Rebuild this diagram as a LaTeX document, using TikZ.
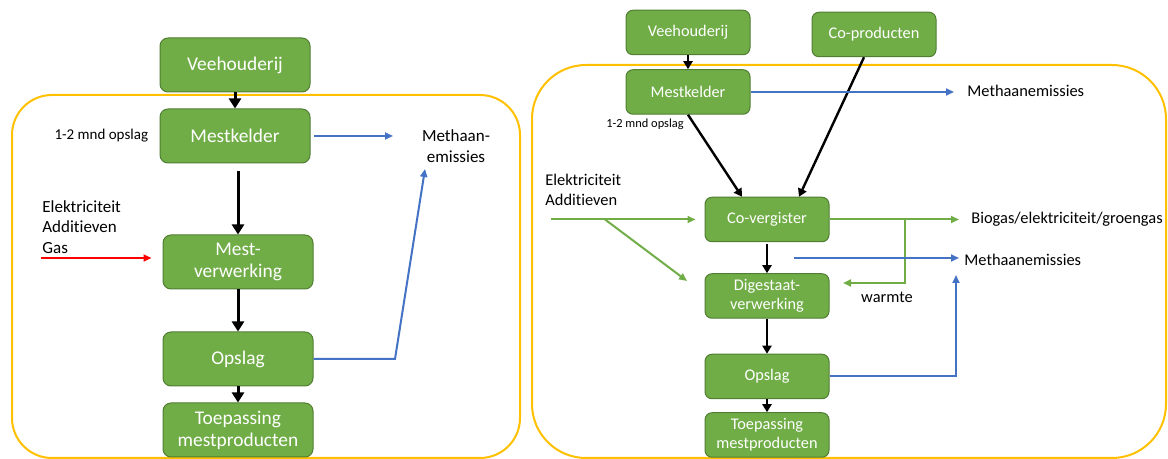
\documentclass[tikz,border=0pt]{standalone}
\usepackage{fontspec}
\setmainfont{Carlito}[Ligatures=NoCommon]
\usetikzlibrary{positioning,arrows.meta}

\definecolor{boxgreen}{HTML}{70AD47}
\definecolor{boxline}{HTML}{507E32}
\definecolor{flowblue}{HTML}{4472C4}
\definecolor{frameyellow}{HTML}{FFC000}

\begin{document}
\begin{tikzpicture}[
    x=0.5pt, y=-0.5pt,
    box/.style={draw=boxline, line width=0.5pt, fill=boxgreen, text=white, align=center, inner sep=0pt},
    bigbox/.style={box, rounded corners=4pt, minimum width=75pt, minimum height=27pt, font=\fontsize{9.7}{11}\selectfont},
    smallbox/.style={box, rounded corners=3.5pt, minimum width=62pt, minimum height=22.25pt, font=\fontsize{8.15}{9.3}\selectfont},
    lbl/.style={inner sep=0pt, font=\fontsize{8.5}{10.2}\selectfont},
    lbltwo/.style={inner sep=0pt, font=\fontsize{8.2}{10}\selectfont},
    frame/.style={draw=frameyellow, line width=1pt},
    blackarr/.style={-{Triangle[length=5pt,width=6pt]}, line width=1.5pt},
    blackarrtwo/.style={-{Triangle[length=4pt,width=4.5pt]}, line width=1.2pt},
    bluearr/.style={-{Triangle[length=4pt,width=3.5pt]}, draw=flowblue, line width=1pt},
    greenarr/.style={-{Triangle[length=4pt,width=3.5pt]}, draw=boxgreen, line width=1pt},
    redarr/.style={-{Triangle[length=4pt,width=3.5pt]}, draw=red, line width=1pt}
]
\useasboundingbox (0,0) rectangle (1168,459);

% Frames
\draw[frame, rounded corners=20pt] (12,95) rectangle (520,458);
\draw[frame, rounded corners=27pt] (532,65) rectangle (1166,458);

% Left chain
\node[bigbox] (veeh1) at (235,65) {Veehouderij};
\node[bigbox, below=8pt of veeh1] (mk1) {Mestkelder};
\node[bigbox, below=35.5pt of mk1, xshift=1.5pt] (mv1) {Mest-\\verwerking};
\node[bigbox, below=21pt of mv1] (op1) {Opslag};
\node[bigbox, below=8pt of op1] (tp1) {Toepassing\\mestproducten};

% Left labels
\node[inner sep=0pt, font=\fontsize{7.5}{9}\selectfont, left=5.5pt of mk1] (opsl1) {1-2 mnd opslag};
\node[lbl, align=center] (meth1) at (456,146) {Methaan-\\emissies};
\node[lbl, align=left, anchor=west] (inp1) at (42,227) {Elektriciteit\\Additieven\\Gas};

\coordinate (m1end) at (393,134);
\coordinate (bend1) at (395,355);
\coordinate (up1) at (425,169);
\coordinate (red1) at (41,258);

% Left arrows
\draw[blackarr] (veeh1) -- (mk1);
\draw[blackarr, shorten <=4pt] (mv1.north |- mk1.south) -- (mv1);
\draw[blackarr] (mv1) -- (op1);
\draw[blackarr] (op1) -- (tp1);
\draw[bluearr, shorten <=1.5pt] (mk1) -- (mk1 -| m1end);
\draw[bluearr] (op1) -- (op1 -| bend1) -- (up1);
\draw[redarr, shorten >=5.5pt] (red1) -- (red1 -| mv1.west);

% Right chain
\node[smallbox] (veeh2) at (688,32.5) {Veehouderij};
\node[smallbox, below=7pt of veeh2] (mk2) {Mestkelder};
\node[smallbox] (cop2) at (874,34.5) {Co-producten};
\node[smallbox] (cov2) at (767,219.5) {Co-vergister};
\node[smallbox, below=15.5pt of cov2] (dig2) {Digestaat-\\verwerking};
\node[smallbox, below=17.5pt of dig2] (op2) {Opslag};
\node[smallbox, below=6.5pt of op2] (tp2) {Toepassing\\mestproducten};

% Right labels
\node[lbltwo, anchor=west] (meth2) at (967,91) {Methaanemissies};
\node[inner sep=0pt, font=\fontsize{6.2}{7.5}\selectfont] (opsl2) at (645,124) {1-2 mnd opslag};
\node[lbltwo, align=left, anchor=west] (inp2) at (545,190) {Elektriciteit\\Additieven};
\node[lbltwo, anchor=west] (bio2) at (971,219.5) {Biogas/elektriciteit/groengas};
\node[lbltwo, anchor=west] (meth3) at (964,260) {Methaanemissies};
\node[lbltwo] (warm2) at (887,297) {warmte};

\coordinate (in2) at (551,219.5);
\coordinate (split2) at (605,219.5);
\coordinate (dig2in) at (687,281);
\coordinate (heat2) at (905,219.5);
\coordinate (heat2end) at (843,283);
\coordinate (meth3start) at (794,258);
\coordinate (meth3up) at (956,275);

% Right arrows
\draw[blackarrtwo] (veeh2) -- (mk2);
\draw[blackarrtwo] (mk2.south) -- ([xshift=-12.5pt]cov2.north);
\draw[blackarrtwo] ([xshift=-5pt]cop2.south) -- ([xshift=16pt]cov2.north);
\draw[blackarrtwo, shorten <=1pt] (cov2) -- (dig2);
\draw[blackarrtwo] (dig2) -- (op2);
\draw[blackarrtwo] (op2) -- (tp2);
\draw[bluearr, shorten >=6.5pt] (mk2) -- (mk2 -| meth2.west);
\draw[greenarr, shorten >=4.5pt] (in2) -- (cov2);
\draw[greenarr] (split2) -- (dig2in);
\draw[greenarr, shorten >=6pt] (cov2) -- (bio2);
\draw[greenarr] (heat2) |- (heat2end);
\draw[bluearr, shorten >=2.5pt] (meth3start) -- (meth3start -| meth3.west);
\draw[bluearr] (op2) -| (meth3up);
\end{tikzpicture}
\end{document}
